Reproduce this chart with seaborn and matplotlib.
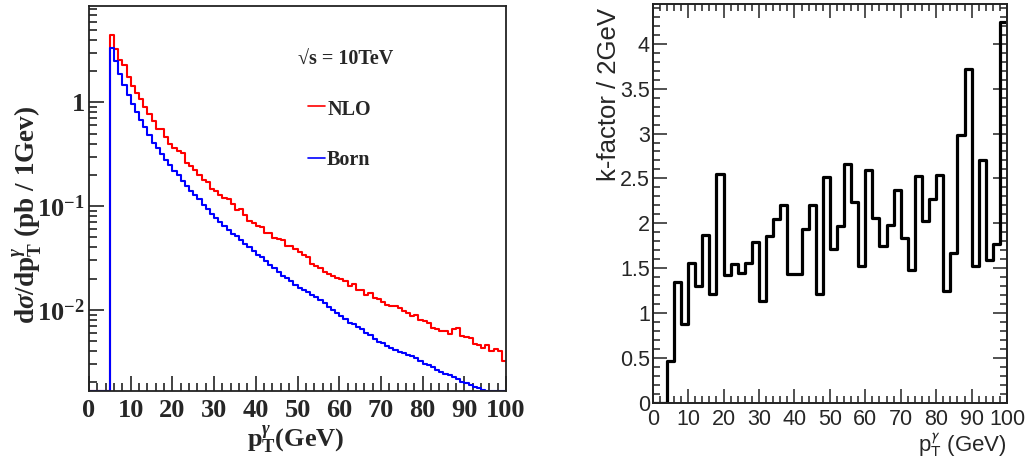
import numpy as np
import matplotlib
matplotlib.use('Agg')
import matplotlib.pyplot as plt
import seaborn as sns
from matplotlib.ticker import MultipleLocator, LogLocator, NullFormatter, FixedLocator, FixedFormatter

# bin edges (GeV)
edges_1gev = list(range(0, 101, 1))
edges_2gev = list(range(0, 101, 2))

# d sigma / d pT (pb / GeV), 1 GeV bins from 0 to 100, nothing below 5 GeV
nlo_xsec = [0, 0, 0, 0, 0,
            4.5, 3.3, 2.55, 2.27, 1.76, 1.44, 1.22, 1.08, 0.91, 0.78,
            0.66, 0.55, 0.55, 0.46, 0.40, 0.36, 0.34, 0.325, 0.261, 0.243,
            0.224, 0.20, 0.18, 0.17, 0.147, 0.139, 0.129, 0.120, 0.116, 0.105,
            0.0925, 0.0946, 0.0828, 0.0714, 0.0689, 0.0648, 0.063, 0.0551, 0.0551, 0.0493,
            0.0482, 0.0468, 0.0415, 0.0409, 0.0386, 0.0358, 0.0337, 0.0323, 0.0278, 0.0266,
            0.0253, 0.0229, 0.0223, 0.0213, 0.0201, 0.0198, 0.0191, 0.0171, 0.0178, 0.0156,
            0.0154, 0.0140, 0.0145, 0.0129, 0.0127, 0.0120, 0.0112, 0.0109, 0.0110, 0.0105,
            0.0098, 0.0094, 0.0087, 0.0089, 0.0079, 0.0078, 0.0075, 0.0067, 0.0065, 0.0063,
            0.0062, 0.0058, 0.0065, 0.0067, 0.0056, 0.0055, 0.0054, 0.0047, 0.0046, 0.0043,
            0.0046, 0.0040, 0.0042, 0.0040, 0.0032]

born_xsec = [0, 0, 0, 0, 0,
             3.35, 2.51, 1.87, 1.47, 1.18, 0.97, 0.80, 0.68, 0.575, 0.49,
             0.41, 0.365, 0.32, 0.278, 0.248, 0.22, 0.198, 0.175, 0.157, 0.141,
             0.128, 0.116, 0.102, 0.094, 0.083, 0.077, 0.070, 0.064, 0.059, 0.054,
             0.051, 0.047, 0.0434, 0.040, 0.0372, 0.034, 0.032, 0.0293, 0.0272, 0.0253,
             0.0229, 0.0214, 0.0202, 0.0188, 0.0174, 0.0162, 0.0155, 0.0150, 0.0140, 0.0133,
             0.0125, 0.0116, 0.0106, 0.0100, 0.0094, 0.0087, 0.0081, 0.0075, 0.0073, 0.0068,
             0.0065, 0.0060, 0.0057, 0.0052, 0.0049, 0.0048, 0.0045, 0.0043, 0.0041, 0.0039,
             0.0038, 0.0037, 0.0036, 0.0034, 0.0032, 0.0030, 0.00295, 0.0028, 0.0026, 0.0025,
             0.0024, 0.00235, 0.00227, 0.00214, 0.00203, 0.00195, 0.0019, 0.0018, 0.00178, 0.0017,
             0, 0, 0, 0, 0]

# k-factor, 2 GeV bins from 0 to 100
k_factor = [0, 0, 0.47, 1.35, 0.88, 1.56, 1.30, 1.87, 1.21, 2.55,
            1.43, 1.55, 1.45, 1.56, 1.79, 1.14, 1.86, 2.05, 2.21, 1.44,
            1.44, 1.94, 2.21, 1.22, 2.52, 1.72, 1.97, 2.66, 2.24, 1.53,
            2.59, 2.06, 1.75, 1.98, 2.37, 1.84, 1.48, 2.53, 2.03, 2.27,
            2.54, 1.25, 1.67, 2.98, 3.72, 1.53, 2.70, 1.59, 1.77, 4.24]

sns.set_style('ticks')
plt.rcParams['mathtext.fontset'] = 'custom'
plt.rcParams['mathtext.rm'] = 'Liberation Serif:bold'
plt.rcParams['mathtext.it'] = 'Liberation Serif:italic:bold'
plt.rcParams['mathtext.bf'] = 'Liberation Serif:bold'

SERIF = 'Liberation Serif'
SANS = 'Liberation Sans'

fig = plt.figure(figsize=(10.3, 4.71), dpi=100)

# ──────────────────────────────────────────────
# Left: cross sections (log scale)
# ──────────────────────────────────────────────
ax1 = fig.add_axes([0.0864, 0.1699, 0.4049, 0.8174])
y_lo, y_hi = 1.65e-3, 8.5

centers_1 = 0.5 * (np.array(edges_1gev[:-1]) + np.array(edges_1gev[1:]))
# empty bins are drawn along the bottom frame, like ROOT does
sns.histplot(x=centers_1, weights=np.clip(nlo_xsec, y_lo, None), bins=edges_1gev,
             element='step', fill=False, color='#ff0000', linewidth=1.5, ax=ax1)
sns.histplot(x=centers_1, weights=np.clip(born_xsec, y_lo, None), bins=edges_1gev,
             element='step', fill=False, color='#0000ff', linewidth=1.5, ax=ax1)

ax1.set_yscale('log')
ax1.set_xlim(0, 100)
ax1.set_ylim(y_lo, y_hi)
ax1.set_xlabel('')
ax1.set_ylabel('')

ax1.xaxis.set_major_locator(MultipleLocator(10))
ax1.xaxis.set_minor_locator(MultipleLocator(2))
ax1.yaxis.set_major_locator(FixedLocator([0.01, 0.1, 1]))
ax1.yaxis.set_major_formatter(FixedFormatter([r'$10^{-2}$', r'$10^{-1}$', '1']))
ax1.yaxis.set_minor_locator(LogLocator(base=10, subs=np.arange(2, 10)))
ax1.yaxis.set_minor_formatter(NullFormatter())
ax1.tick_params(which='both', direction='in', top=False, right=False, width=1.2, color='#222222')
ax1.tick_params(which='major', length=11)
ax1.tick_params(which='minor', length=6)
ax1.tick_params(axis='x', which='major', pad=6)
ax1.tick_params(axis='y', which='major', pad=3)
for lab in ax1.get_xticklabels() + ax1.get_yticklabels():
    lab.set_fontfamily(SERIF)
    lab.set_fontweight('bold')
    lab.set_fontsize(19)
for sp in ax1.spines.values():
    sp.set_linewidth(1.3)
    sp.set_color('#222222')

ax1.text(-0.148, 0.458, r'd$\sigma$/dp$_{\mathrm{T}}^{\gamma}$ (pb / 1Gev)',
         transform=ax1.transAxes, rotation=90, ha='center', va='center',
         fontfamily=SERIF, fontweight='bold', fontsize=19.5)
ax1.text(0.496, -0.128, r'p$_{\mathrm{T}}^{\gamma}$(GeV)', transform=ax1.transAxes,
         ha='center', va='center', fontfamily=SERIF, fontweight='bold', fontsize=19)

ax1.text(0.501, 0.861, '√s = 10TeV', transform=ax1.transAxes, ha='left', va='center',
         fontfamily=SERIF, fontweight='bold', fontsize=14.5)
ax1.plot([0.525, 0.566], [0.739, 0.739], transform=ax1.transAxes, color='#ff0000', lw=1.2)
ax1.text(0.571, 0.731, 'NLO', transform=ax1.transAxes, ha='left', va='center',
         fontfamily=SERIF, fontweight='bold', fontsize=14.5)
ax1.plot([0.525, 0.566], [0.606, 0.606], transform=ax1.transAxes, color='#0000ff', lw=1.2)
ax1.text(0.571, 0.601, 'Born', transform=ax1.transAxes, ha='left', va='center',
         fontfamily=SERIF, fontweight='bold', fontsize=14.5)

# ──────────────────────────────────────────────
# Right: k-factor
# ──────────────────────────────────────────────
ax2 = fig.add_axes([0.6337, 0.1437, 0.344, 0.8478])
centers_2 = 0.5 * (np.array(edges_2gev[:-1]) + np.array(edges_2gev[1:]))
sns.histplot(x=centers_2, weights=k_factor, bins=edges_2gev,
             element='step', fill=False, color='black', linewidth=2.3, ax=ax2)
ax2.set_xlim(0, 100)
ax2.set_ylim(0, 4.44)
ax2.set_xlabel('')
ax2.set_ylabel('')

ax2.xaxis.set_major_locator(MultipleLocator(10))
ax2.xaxis.set_minor_locator(MultipleLocator(2))
ax2.yaxis.set_major_locator(MultipleLocator(0.5))
ax2.yaxis.set_minor_locator(MultipleLocator(0.1))
ax2.yaxis.set_major_formatter(matplotlib.ticker.FuncFormatter(lambda v, p: f'{v:g}'))
ax2.tick_params(which='both', direction='in', top=True, right=True, width=1.1, color='#222222')
ax2.tick_params(which='major', length=10)
ax2.tick_params(which='minor', length=5)
ax2.tick_params(axis='x', which='major', pad=4)
ax2.tick_params(axis='y', which='major', pad=2)
for lab in ax2.get_xticklabels() + ax2.get_yticklabels():
    lab.set_fontfamily(SANS)
    lab.set_fontsize(15.5)
for sp in ax2.spines.values():
    sp.set_linewidth(1.4)
    sp.set_color('#222222')

ax2.text(-0.123, 0.99, 'k-factor / 2GeV', transform=ax2.transAxes, rotation=90,
         ha='center', va='top', fontfamily=SANS, fontsize=18.5)
ax2.text(1.0, -0.104, r'p$_{\mathrm{T}}^{\gamma}$ (GeV)', transform=ax2.transAxes,
         ha='right', va='center', fontfamily=SANS, fontsize=16, math_fontfamily='stixsans')

fig.savefig('out.png', dpi=100)
